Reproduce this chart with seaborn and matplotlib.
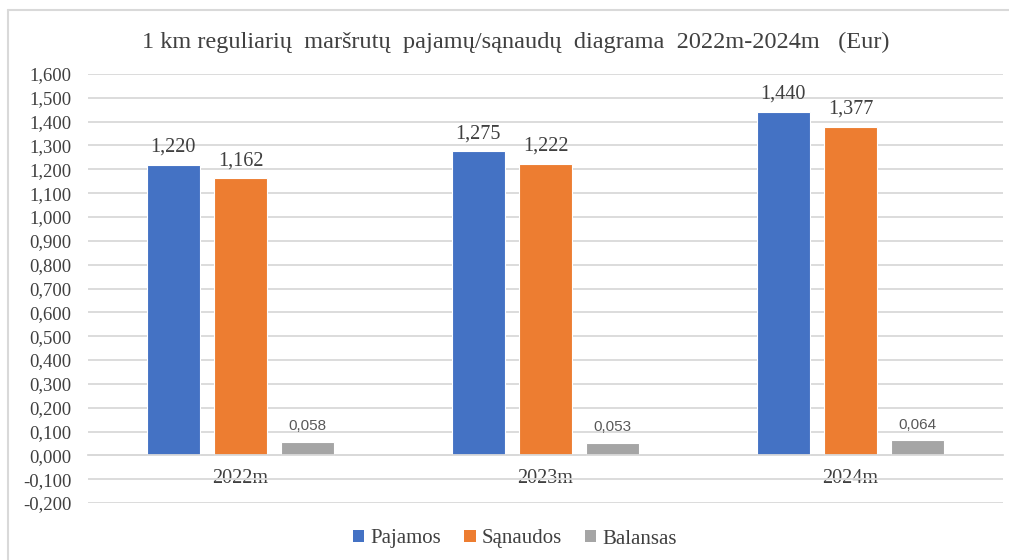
import matplotlib.pyplot as plt
import matplotlib.ticker as mticker
from matplotlib.patches import Patch
from matplotlib.lines import Line2D
import pandas as pd
import seaborn as sns

# chart values
years = ['2022m', '2023m', '2024m']
series = ['Pajamos', 'Sąnaudos', 'Balansas']
pajamos = [1.220, 1.275, 1.440]
sanaudos = [1.162, 1.222, 1.377]
balansas = [0.058, 0.053, 0.064]
colors = ['#4472C4', '#ED7D31', '#A5A5A5']

df = pd.DataFrame({
    'year': years * 3,
    'series': [series[0]] * 3 + [series[1]] * 3 + [series[2]] * 3,
    'value': pajamos + sanaudos + balansas,
})

sns.set_theme(style='white')
plt.rcParams['font.family'] = ['Liberation Serif', 'DejaVu Serif']
txt = '#404040'

fig = plt.figure(figsize=(10.09, 5.6), dpi=100)
ax = fig.add_axes([88 / 1009, 57 / 560, 915 / 1009, 429 / 560])

sns.barplot(data=df, x='year', y='value', hue='series', palette=colors,
            saturation=1, width=0.66, gap=0.2, ax=ax, legend=False,
            edgecolor='white', linewidth=0.8)

ax.set_xlim(-0.5, 2.5)
ax.set_ylim(-0.2, 1.6)
ax.yaxis.set_major_locator(mticker.MultipleLocator(0.1))
ax.yaxis.set_major_formatter(mticker.FuncFormatter(lambda v, p: f'{v:.3f}'.replace('.', ',').replace('-0,000', '0,000')))
ax.grid(axis='y', color='#D9D9D9', linewidth=1.3)
ax.set_axisbelow(True)
for s in ['top', 'right', 'left']:
    ax.spines[s].set_visible(False)
ax.spines['bottom'].set_position(('data', 0))
ax.spines['bottom'].set_color('#D9D9D9')
ax.spines['bottom'].set_linewidth(1.3)
ax.tick_params(axis='y', length=0, labelsize=13.5, labelcolor=txt, pad=12)
ax.tick_params(axis='x', length=0, labelsize=14.5, labelcolor=txt, pad=10)
ax.set_xlabel('')
ax.set_ylabel('')

# data labels
for i, cont in enumerate(ax.containers):
    labels = [f'{b.get_height():.3f}'.replace('.', ',') for b in cont]
    if i < 2:
        ax.bar_label(cont, labels=labels, padding=6, fontsize=14.5, color=txt)
    else:
        ax.bar_label(cont, labels=labels, padding=6, fontsize=11, color='#595959',
                     family=['Liberation Sans', 'DejaVu Sans'])

fig.text(516 / 1009, 1 - 42 / 560,
         '1 km reguliarių  maršrutų  pajamų/sąnaudų  diagrama  2022m-2024m   (Eur)',
         ha='center', va='center', fontsize=17.5, color=txt)

handles = [Patch(facecolor=c, edgecolor='none') for c in colors]
fig.legend(handles, series, loc='center', bbox_to_anchor=(515 / 1009, 1 - 539 / 560),
           ncol=3, frameon=False, fontsize=15, labelcolor=txt,
           handlelength=0.55, handleheight=0.55, handletextpad=0.3, columnspacing=1.1)

# outer chart border (top and left visible)
fig.add_artist(Line2D([8 / 1009, 1], [1 - 10 / 560, 1 - 10 / 560], transform=fig.transFigure,
                      color='#D9D9D9', linewidth=1.5))
fig.add_artist(Line2D([8 / 1009, 8 / 1009], [0, 1 - 10 / 560], transform=fig.transFigure,
                      color='#D9D9D9', linewidth=1.5))

fig.savefig('out.png', dpi=100)
